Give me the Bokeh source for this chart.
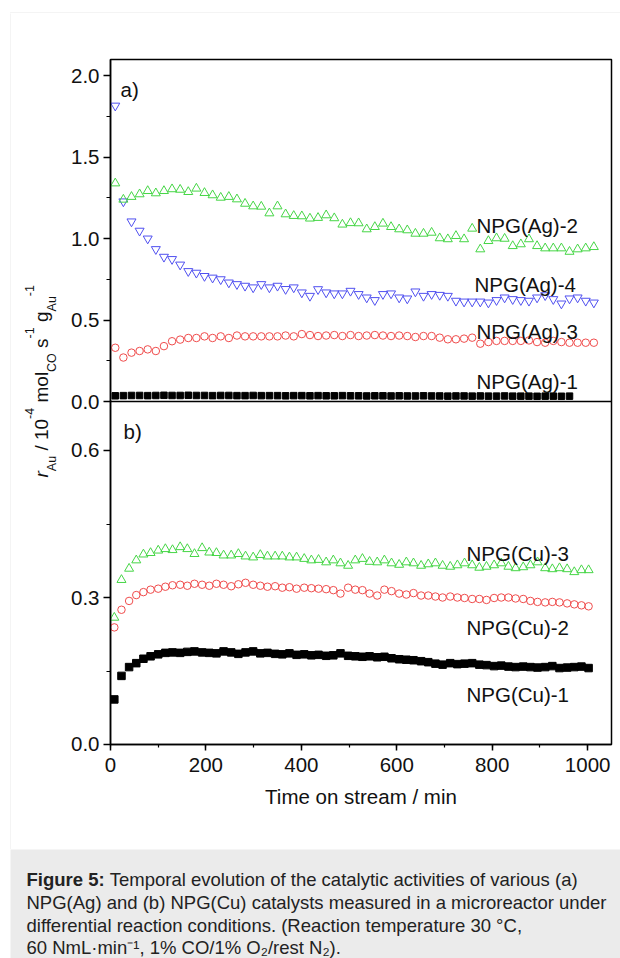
from math import pi
from bokeh.plotting import figure
from bokeh.models import (Range1d, LinearAxis, FixedTicker, SingleIntervalTicker,
                          Span, Label, BoxAnnotation)
from bokeh.layouts import column, row
from bokeh.embed import file_html
from bokeh.resources import INLINE

# ---------------- data ----------------
time_a = [10, 27, 44, 61, 78, 95, 112, 129, 146, 163,
          180, 197, 214, 231, 248, 265, 282, 299, 316, 333,
          350, 367, 384, 401, 418, 435, 452, 469, 486, 503,
          520, 537, 554, 571, 588, 605, 622, 639, 656, 673,
          690, 707, 724, 741, 758, 775, 792, 809, 826, 843,
          860, 877, 894, 911, 928, 945, 962, 979, 996, 1013]
ag2 = [1.34, 1.24, 1.257, 1.273, 1.293, 1.279, 1.293, 1.304, 1.301, 1.287,
       1.308, 1.281, 1.267, 1.252, 1.257, 1.242, 1.215, 1.199, 1.197, 1.156,
       1.199, 1.150, 1.140, 1.138, 1.124, 1.128, 1.144, 1.126, 1.087, 1.096,
       1.095, 1.058, 1.072, 1.093, 1.072, 1.058, 1.052, 1.031, 1.031, 1.037,
       1.003, 0.997, 1.017, 0.997, 1.062, 0.935, 0.986, 1.003, 1.000, 0.955,
       0.966, 0.997, 0.955, 0.941, 0.941, 0.941, 0.920, 0.935, 0.941, 0.949]
ag4 = [1.816, 1.228, 1.105, 1.048, 1.000, 0.935, 0.888, 0.874, 0.840, 0.800,
       0.790, 0.770, 0.760, 0.750, 0.730, 0.720, 0.710, 0.700, 0.720, 0.700,
       0.710, 0.690, 0.700, 0.669, 0.648, 0.689, 0.669, 0.663, 0.663, 0.679,
       0.659, 0.638, 0.622, 0.659, 0.663, 0.638, 0.632, 0.675, 0.648, 0.659,
       0.654, 0.648, 0.618, 0.613, 0.613, 0.613, 0.607, 0.622, 0.638, 0.628,
       0.622, 0.618, 0.638, 0.652, 0.628, 0.601, 0.632, 0.638, 0.618, 0.607]
ag3 = [0.330, 0.270, 0.300, 0.310, 0.320, 0.310, 0.340, 0.370, 0.380, 0.390,
       0.390, 0.400, 0.390, 0.400, 0.390, 0.405, 0.400, 0.400, 0.400, 0.400,
       0.400, 0.405, 0.400, 0.414, 0.408, 0.402, 0.405, 0.408, 0.402, 0.408,
       0.402, 0.405, 0.408, 0.405, 0.402, 0.405, 0.402, 0.396, 0.402, 0.402,
       0.392, 0.382, 0.382, 0.386, 0.392, 0.355, 0.365, 0.372, 0.372, 0.372,
       0.372, 0.375, 0.365, 0.361, 0.372, 0.365, 0.361, 0.361, 0.361, 0.361]
time_a1 = time_a[:57]
ag1 = [0.035, 0.036, 0.037, 0.037, 0.036, 0.037, 0.038, 0.037, 0.037, 0.038,
       0.037, 0.037, 0.036, 0.037, 0.037, 0.036, 0.036, 0.037, 0.036, 0.036,
       0.036, 0.035, 0.036, 0.036, 0.035, 0.036, 0.035, 0.035, 0.036, 0.035,
       0.035, 0.034, 0.035, 0.035, 0.034, 0.035, 0.034, 0.034, 0.035, 0.034,
       0.034, 0.033, 0.034, 0.034, 0.033, 0.034, 0.033, 0.033, 0.034, 0.033,
       0.033, 0.033, 0.032, 0.033, 0.033, 0.032, 0.033]

time_b = [8, 23, 39, 54, 69, 84, 100, 115, 130, 146,
          161, 176, 192, 207, 222, 237, 253, 268, 283, 299,
          314, 329, 345, 360, 375, 390, 406, 421, 436, 452,
          467, 482, 498, 513, 528, 543, 559, 574, 589, 605,
          620, 635, 651, 666, 681, 696, 712, 727, 742, 758,
          773, 788, 804, 819, 834, 849, 865, 880, 895, 911,
          926, 941, 957, 972, 987, 1002]
cu3 = [0.259, 0.336, 0.359, 0.376, 0.388, 0.391, 0.396, 0.399, 0.397, 0.403,
       0.399, 0.389, 0.401, 0.392, 0.391, 0.386, 0.386, 0.389, 0.384, 0.382,
       0.387, 0.384, 0.384, 0.384, 0.382, 0.382, 0.379, 0.376, 0.377, 0.372,
       0.376, 0.370, 0.365, 0.376, 0.379, 0.373, 0.372, 0.376, 0.370, 0.367,
       0.372, 0.370, 0.365, 0.368, 0.370, 0.365, 0.363, 0.366, 0.370, 0.366,
       0.361, 0.363, 0.366, 0.370, 0.363, 0.360, 0.362, 0.366, 0.372, 0.360,
       0.358, 0.360, 0.358, 0.352, 0.356, 0.356]
cu2 = [0.239, 0.275, 0.293, 0.305, 0.311, 0.316, 0.318, 0.322, 0.325, 0.326,
       0.324, 0.328, 0.326, 0.324, 0.328, 0.326, 0.323, 0.327, 0.330, 0.326,
       0.324, 0.322, 0.323, 0.320, 0.321, 0.318, 0.320, 0.319, 0.318, 0.317,
       0.315, 0.308, 0.320, 0.316, 0.315, 0.308, 0.304, 0.316, 0.313, 0.308,
       0.306, 0.309, 0.304, 0.304, 0.302, 0.300, 0.302, 0.300, 0.299, 0.297,
       0.297, 0.295, 0.299, 0.300, 0.300, 0.298, 0.297, 0.293, 0.291, 0.290,
       0.291, 0.290, 0.288, 0.286, 0.284, 0.282]
cu1 = [0.092, 0.140, 0.158, 0.166, 0.175, 0.180, 0.184, 0.187, 0.188, 0.187,
       0.189, 0.190, 0.188, 0.187, 0.186, 0.190, 0.188, 0.185, 0.188, 0.190,
       0.186, 0.187, 0.185, 0.184, 0.186, 0.183, 0.184, 0.182, 0.183, 0.181,
       0.182, 0.186, 0.181, 0.180, 0.179, 0.180, 0.178, 0.179, 0.176, 0.174,
       0.173, 0.172, 0.170, 0.168, 0.165, 0.163, 0.166, 0.164, 0.165, 0.166,
       0.163, 0.162, 0.160, 0.161, 0.159, 0.158, 0.159, 0.158, 0.157, 0.158,
       0.160, 0.156, 0.157, 0.158, 0.159, 0.156]

ticks_a = [0.0, 0.5, 1.0, 1.5, 2.0]
minor_a = [0.25, 0.75, 1.25, 1.75]
ticks_b = [0.0, 0.3, 0.6]
minor_b = [0.15, 0.45]
labels_a = ["0.0", "0.5", "1.0", "1.5", "2.0"]
labels_b = ["0.0", "0.3", "0.6"]

# ---------------- layout constants ----------------
FONT = "Liberation Sans"
FS = "20.5px"
A_MAX, B_MAX = 2.1, 0.7
PX_A, PX_B = 342, 343
HEAD_H = 13          # header strip height
LEFT_W = 64          # width of the y-title strip
MAIN_H = 836
CAP_H = 958 - HEAD_H - MAIN_H

top_rng = Range1d(-A_MAX * PX_B / PX_A, A_MAX)
bot_rng = Range1d(0, B_MAX * (PX_A + PX_B) / PX_B)


def to_top(v):
    return round(top_rng.start + (v - bot_rng.start) / (bot_rng.end - bot_rng.start)
                 * (top_rng.end - top_rng.start), 6)


def no_align(fig):
    if "frame_align" in fig.properties():
        fig.frame_align = False


def deco_fig(w, h, **kw):
    f = figure(width=w, height=h, x_range=Range1d(0, 1), y_range=Range1d(0, 1),
               output_backend="svg", toolbar_location=None,
               x_axis_type=None, y_axis_type=None,
               min_border_left=kw.get("ml", 0), min_border_right=0,
               min_border_top=0, min_border_bottom=0,
               background_fill_color=kw.get("bg", "white"), border_fill_color="white")
    f.outline_line_color = None
    no_align(f)
    return f


# ---------------- main plot ----------------
p = figure(width=620 - LEFT_W, height=MAIN_H, x_range=Range1d(0, 1050), y_range=top_rng,
           output_backend="svg", toolbar_location=None,
           x_axis_type=None, y_axis_type=None,
           min_border_left=110 - LEFT_W, min_border_right=9,
           min_border_top=59 - HEAD_H, min_border_bottom=HEAD_H + MAIN_H - 744,
           background_fill_color="white", border_fill_color="white")
no_align(p)
p.extra_y_ranges = {"b": bot_rng}
p.outline_line_color = "black"
p.outline_line_width = 1.5

xaxis = LinearAxis(ticker=SingleIntervalTicker(interval=200, num_minor_ticks=2))
xaxis.axis_label = "Time on stream / min"
xaxis.axis_label_text_font = FONT
xaxis.axis_label_text_font_size = FS
xaxis.axis_label_text_font_style = "normal"
xaxis.axis_label_text_color = "#111111"
xaxis.axis_label_standoff = 10
xaxis.major_label_text_font = FONT
xaxis.major_label_text_font_size = FS
xaxis.major_label_text_color = "#111111"
xaxis.major_label_standoff = 7
xaxis.major_tick_in = 0
xaxis.major_tick_out = 6
xaxis.minor_tick_in = 0
xaxis.minor_tick_out = 3
xaxis.axis_line_width = 1.5
xaxis.major_tick_line_width = 1.5
xaxis.minor_tick_line_width = 1.2
p.add_layout(xaxis, "below")

major_pos = list(ticks_a) + [to_top(v) for v in ticks_b]
minor_pos = list(minor_a) + [to_top(v) for v in minor_b]
overrides = {}
for v, s in zip(ticks_a, labels_a):
    overrides[v] = s
for v, s in zip(ticks_b, labels_b):
    overrides[to_top(v)] = s
yaxis = LinearAxis(ticker=FixedTicker(ticks=major_pos, minor_ticks=minor_pos),
                   major_label_overrides=overrides)
yaxis.major_label_text_font = FONT
yaxis.major_label_text_font_size = FS
yaxis.major_label_text_color = "#111111"
yaxis.major_label_standoff = 4
yaxis.major_tick_in = 0
yaxis.major_tick_out = 7
yaxis.minor_tick_in = 0
yaxis.minor_tick_out = 4
yaxis.axis_line_width = 1.5
yaxis.major_tick_line_width = 1.5
yaxis.minor_tick_line_width = 1.2
p.add_layout(yaxis, "left")

p.add_layout(Span(location=0, dimension="width", line_color="black", line_width=1.5))

GREEN = "#46d646"
BLUE = "#5050f0"
RED = "#f04c4c"

p.scatter(time_a1, ag1, marker="square", size=6.5, fill_color="black", line_color="black")
p.scatter(time_a, ag3, marker="circle", size=7.5, fill_color=None, line_color=RED, line_width=1)
p.scatter(time_a, ag4, marker="inverted_triangle", size=9, fill_color=None, line_color=BLUE, line_width=1)
p.scatter(time_a, ag2, marker="triangle", size=9, fill_color=None, line_color=GREEN, line_width=1)

p.scatter(time_b, cu1, marker="square", size=7.5, fill_color="black", line_color="black", y_range_name="b")
p.scatter(time_b, cu2, marker="circle", size=7.5, fill_color=None, line_color=RED, line_width=1, y_range_name="b")
p.scatter(time_b, cu3, marker="triangle", size=9, fill_color=None, line_color=GREEN, line_width=1, y_range_name="b")


def clabel(fig, x, y, text, size=FS, style="normal", color="#111111", angle=0.0):
    fig.add_layout(Label(x=x, y=y, x_units="canvas", y_units="canvas", text=text,
                         text_font=FONT, text_font_size=size, text_font_style=style,
                         text_color=color, text_align="left", text_baseline="alphabetic",
                         angle=angle))


def plabel(px, py, text):
    # page pixel position -> main-plot canvas position
    clabel(p, px - LEFT_W, py - HEAD_H, text)


plabel(120, 89, "a)")
plabel(123, 431, "b)")
plabel(476, 225, "NPG(Ag)-2")
plabel(474, 284, "NPG(Ag)-4")
plabel(476, 331, "NPG(Ag)-3")
plabel(476, 381, "NPG(Ag)-1")
plabel(466, 553, "NPG(Cu)-3")
plabel(466, 627, "NPG(Cu)-2")
plabel(466, 694, "NPG(Cu)-1")

# ---------------- y-title strip ----------------
yt = deco_fig(LEFT_W, MAIN_H)
yt.add_layout(BoxAnnotation(left=10, right=900, top=-50, bottom=5000,
                            left_units="canvas", right_units="canvas",
                            top_units="canvas", bottom_units="canvas",
                            fill_alpha=0, line_color="#dcdcdc", line_width=1))
W = {' ': 278, '/': 278, '0': 556, '1': 556, '4': 556, '-': 333, 'A': 667, 'C': 722,
     'O': 778, 'u': 556, 'm': 833, 'o': 556, 'l': 222, 's': 500, 'g': 556, 'r': 333}


def width(s, px):
    return sum(W[c] for c in s) * px / 1000.0


MAIN, SMALL = 19.0, 12.5
base = {"main": 41, "it": 41, "sub": 51, "sup": 29}
pieces = [("r", "it"), ("Au", "sub"), (" ", "gap"), ("/ 10", "main"), ("-4", "sup"),
          (" ", "gap"), ("mol", "main"), ("CO", "sub"), (" ", "gap"), ("s", "main"),
          ("-1", "sup"), (" ", "gap"), ("g", "main"), ("Au", "sub"), ("-1", "sup")]
ypos = 477.0 - HEAD_H
for txt, kind in pieces:
    if kind == "gap":
        ypos -= width(txt, MAIN)
        continue
    fs = MAIN if kind in ("main", "it") else SMALL
    clabel(yt, base[kind], ypos, txt, size="%.1fpx" % fs,
           style="italic" if kind == "it" else "normal", angle=pi / 2)
    ypos -= width(txt, fs)

# ---------------- header strip (top border line) ----------------
head = deco_fig(620, HEAD_H)
head.add_layout(BoxAnnotation(left=10, right=900, top=12, bottom=500,
                              left_units="canvas", right_units="canvas",
                              top_units="canvas", bottom_units="canvas",
                              fill_alpha=0, line_color="#dcdcdc", line_width=1))

# ---------------- caption ----------------
cap = deco_fig(620, CAP_H, ml=10, bg="#ebebeb")
CFS = 18.5
BW = {'F': 611, 'i': 278, 'g': 611, 'u': 611, 'r': 389, 'e': 556, ' ': 278, '5': 556, ':': 333}
bold_txt = "Figure 5:"
bold_w = sum(BW[c] for c in bold_txt + " ") * CFS / 1000.0
cx = 26
cap_lines = ["Temporal evolution of the catalytic activities of various (a)",
             "NPG(Ag) and (b) NPG(Cu) catalysts measured in a microreactor under",
             "differential reaction conditions. (Reaction temperature 30 °C,",
             "60 NmL·min⁻¹, 1% CO/1% O₂/rest N₂)."]
cap_y = [879, 902, 925, 947]


def caplabel(x, y, text, style="normal"):
    cap.add_layout(Label(x=x, y=y - (HEAD_H + MAIN_H), x_units="canvas", y_units="canvas",
                         text=text, text_font=FONT, text_font_size="%.1fpx" % CFS,
                         text_font_style=style, text_color="#222222",
                         text_align="left", text_baseline="alphabetic"))


caplabel(cx, cap_y[0], bold_txt, style="bold")
caplabel(cx + bold_w, cap_y[0], cap_lines[0])
for line, yy in zip(cap_lines[1:], cap_y[1:]):
    caplabel(cx, yy, line)

layout = column(head, row(yt, p), cap)
open("out.html", "w").write(file_html(layout, INLINE))
